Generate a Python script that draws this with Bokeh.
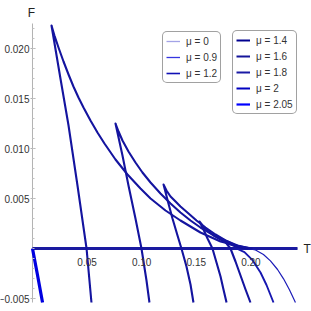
from bokeh.plotting import figure
from bokeh.models import Range1d, FixedTicker, Label, Legend, LegendItem
from bokeh.embed import file_html
from bokeh.resources import INLINE

# ---------------- data ----------------
mu_labels = ["μ = 0", "μ = 0.9", "μ = 1.2", "μ = 1.4", "μ = 1.6", "μ = 1.8", "μ = 2", "μ = 2.05"]

T_mu0 = [0.1969, 0.2042, 0.2115, 0.2179, 0.2244, 0.2299, 0.2353, 0.2408]
F_mu0 = [0.0, -0.00015, -0.0006, -0.00124, -0.0021, -0.00303, -0.00413, -0.0054]

T_mu09 = [0.1868, 0.1941, 0.2015, 0.2088, 0.2143, 0.2207]
F_mu09 = [0.0, -0.00036, -0.00117, -0.0024, -0.00365, -0.0054]

T_mu12 = [0.1969, 0.1905, 0.1850, 0.1795, 0.1749,
          0.1777, 0.1813, 0.1859, 0.1905, 0.1951, 0.1996]
F_mu12 = [0.0, 0.0001, 0.00025, 0.0005, 0.0008,
          0.0005, 0.0, -0.0013, -0.0027, -0.0041, -0.0054]

T_mu14 = [0.1969, 0.1877, 0.1795, 0.1722, 0.1658, 0.1603, 0.1557, 0.1529,
          0.1566, 0.1603, 0.1648, 0.1685, 0.1722, 0.1749, 0.1777]
F_mu14 = [0.0, 0.0002, 0.0005, 0.0009, 0.0013, 0.0018, 0.0023, 0.0027,
          0.0019, 0.0010, 0.0, -0.0014, -0.0028, -0.0041, -0.0054]

T_mu16 = [0.1978, 0.1859, 0.1767, 0.1676, 0.1584, 0.1502, 0.1429, 0.1355, 0.1310, 0.1264, 0.1227, 0.1200,
          0.1245, 0.1282, 0.1328, 0.1364, 0.1410, 0.1447, 0.1474]
F_mu16 = [0.0, 0.0003, 0.0008, 0.0014, 0.0021, 0.0028, 0.0035, 0.0042, 0.0047, 0.0052, 0.0058, 0.0064,
          0.0045, 0.0030, 0.0013, 0.0, -0.0018, -0.0036, -0.0054]

T_mu18 = [0.1996, 0.1877, 0.1767, 0.1648, 0.1538, 0.1447, 0.1355, 0.1264, 0.1172, 0.1081, 0.1007, 0.0943,
          0.0879, 0.0824, 0.0788, 0.0760,
          0.0824, 0.0879, 0.0943, 0.0998, 0.1044, 0.1071]
F_mu18 = [0.0, 0.0003, 0.0008, 0.0014, 0.0021, 0.0028, 0.0036, 0.0045, 0.0055, 0.0066, 0.0076, 0.0086,
          0.0097, 0.0108, 0.0117, 0.0125,
          0.0093, 0.0063, 0.0030, 0.0, -0.0032, -0.0054]

T_mu20 = [0.2015, 0.1905, 0.1722, 0.1538, 0.1355, 0.1218, 0.1081, 0.0989, 0.0870, 0.0760, 0.0659, 0.0595,
          0.0531, 0.0467, 0.0421, 0.0375, 0.0330, 0.0284, 0.0238, 0.0201, 0.0174,
          0.0256, 0.0330, 0.0412, 0.0495, 0.0540]
F_mu20 = [0.0, 0.0002, 0.0007, 0.0016, 0.0028, 0.0038, 0.0050, 0.0060, 0.0074, 0.0089, 0.0105, 0.0116,
          0.0128, 0.0141, 0.0151, 0.0162, 0.0174, 0.0187, 0.0201, 0.0213, 0.0223,
          0.0170, 0.0123, 0.0063, 0.0, -0.0054]

T_mu205 = [0.0, 0.0045, 0.0092]
F_mu205 = [0.0, -0.0026, -0.0054]

T_zero = [0.0, 0.2427]
F_zero = [0.0, 0.0]

x_ticks = [0.05, 0.10, 0.15, 0.20]
x_tick_labels = ["0.05", "0.10", "0.15", "0.20"]
y_ticks = [-0.005, 0.005, 0.010, 0.015, 0.020]
y_tick_labels = ["−0.005", "0.005", "0.010", "0.015", "0.020"]

T_min, T_max = 0.0, 0.2427
F_min, F_max = -0.0054, 0.0225

# ---------------- figure ----------------
FONT = "Liberation Sans"
p = figure(width=311, height=311, output_backend="svg", toolbar_location=None,
           x_range=Range1d(-0.0293, 0.2555), y_range=Range1d(-0.0063, 0.0248),
           min_border_left=0, min_border_right=0, min_border_top=0, min_border_bottom=0)
p.outline_line_color = None
p.xgrid.visible = False
p.ygrid.visible = False
p.background_fill_color = "white"
p.border_fill_color = "white"

# axis lines (Mathematica style, crossing at the origin)
p.segment(x0=[T_min, T_min], y0=[F_min, 0.0], x1=[T_min, T_max], y1=[F_max, 0.0],
          line_color="#b3b3b3", line_width=1)

# curves
dark = "#14149f"
p.line(T_zero, F_zero, line_color="#1a1aa0", line_width=3)
p.line(T_mu0, F_mu0, line_color="#1c1cb8", line_width=1.2)
p.line(T_mu09, F_mu09, line_color="#1717b0", line_width=1.9, line_join="round")
for T, F in [(T_mu12, F_mu12), (T_mu14, F_mu14), (T_mu16, F_mu16), (T_mu18, F_mu18), (T_mu20, F_mu20)]:
    p.line(T, F, line_color=dark, line_width=2.1, line_join="round")
p.line(T_mu205, F_mu205, line_color="#0000e0", line_width=3.2)

# axes placed at the origin
ax = p.xaxis[0]
ax.fixed_location = 0
ax.ticker = FixedTicker(ticks=x_ticks)
ax.major_label_overrides = dict(zip(x_ticks, x_tick_labels))
ax.major_tick_line_color = None
ax.minor_tick_line_color = None
ax.major_label_standoff = 3
ay = p.yaxis[0]
ay.fixed_location = 0
ay.ticker = FixedTicker(ticks=y_ticks, minor_ticks=[i / 1000 for i in range(-5, 23)])
ay.major_label_overrides = dict(zip(y_ticks, y_tick_labels))
ay.major_tick_line_color = "#b3b3b3"
ay.minor_tick_line_color = "#c4c4c4"
ay.major_tick_in = 3
ay.major_tick_out = 2
ay.minor_tick_in = 2
ay.minor_tick_out = 0
ay.major_label_standoff = 1
for a in (ax, ay):
    a.axis_line_color = None
    a.major_label_text_font = FONT
    a.major_label_text_font_size = "10px"
    a.major_label_text_color = "#333333"

p.add_layout(Label(x=0.0, y=F_max, text="F", x_offset=-1, y_offset=4, text_align="center",
                   text_baseline="bottom", text_font=FONT, text_font_size="12px", text_color="#222222"))
p.add_layout(Label(x=T_max, y=0.0, text="T", x_offset=6, text_align="left", text_baseline="middle",
                   text_font=FONT, text_font_size="12px", text_color="#222222"))

# legends (sample glyphs drawn from off-range dummy renderers)
leg_colors = ["#a3a3e6", "#3535e0", "#1010b5", "#00008f", "#15159a", "#1a1aa5", "#0000c0", "#0000ff"]
leg_widths = [1.3, 1.3, 1.6, 2, 2, 2, 2, 2.2]
items = []
for lab, c, w in zip(mu_labels, leg_colors, leg_widths):
    r = p.line([-5, -5], [-5, -5], line_color=c, line_width=w)
    items.append(LegendItem(label=lab, renderers=[r]))

def make_legend(its, loc):
    lg = Legend(items=its, location=loc, orientation="vertical",
                label_text_font=FONT, label_text_font_size="10px", label_text_color="#333333",
                glyph_width=14, glyph_height=12, label_height=12, label_standoff=6,
                spacing=4, padding=3, margin=0,
                border_line_color="#444444", border_line_width=1,
                background_fill_color="white", background_fill_alpha=1.0)
    if "border_radius" in Legend.properties():
        lg.border_radius = 5
    return lg

p.add_layout(make_legend(items[:3], (162, 228)))
p.add_layout(make_legend(items[3:], (232, 197)))

open("out.html", "w").write(file_html(p, INLINE))
